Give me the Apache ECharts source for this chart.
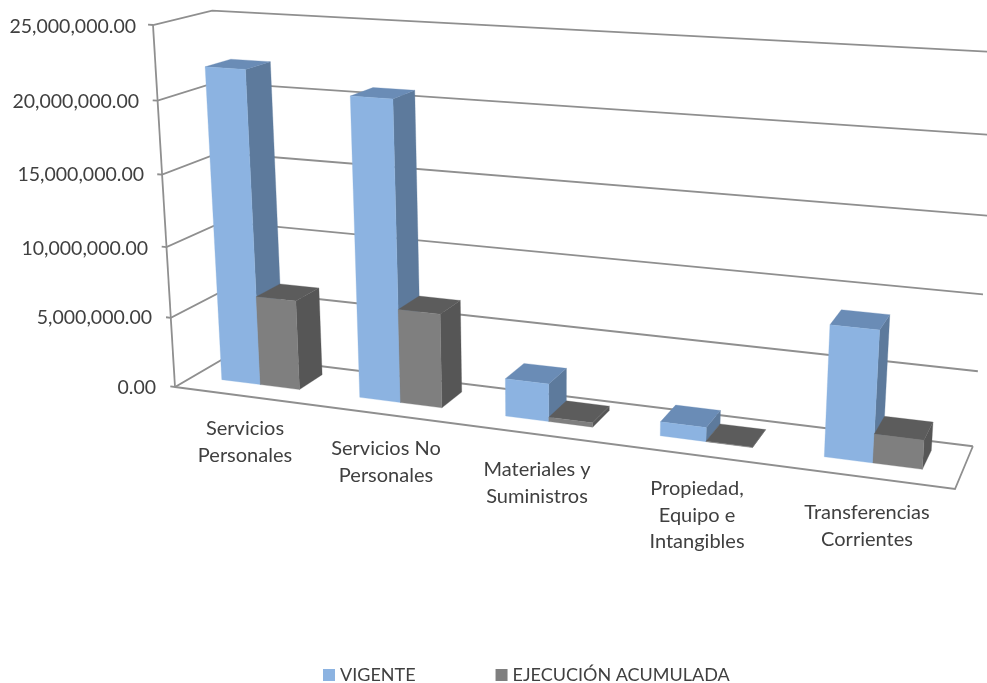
<!DOCTYPE html>
<html><head><meta charset="utf-8">
<style>html,body{margin:0;padding:0;background:#fff}#c{width:987px;height:683px}</style>
<script src="https://cdn.jsdelivr.net/npm/echarts@6/dist/echarts.min.js"></script>
</head><body><div id="c"></div>
<script>
const categories = ['Servicios\nPersonales','Servicios No\nPersonales','Materiales y\nSuministros','Propiedad,\nEquipo e\nIntangibles','Transferencias\nCorrientes'];
const vigente = [22000000, 20700000, 2600000, 950000, 8600000];
const ejecucion = [6350000, 6550000, 300000, 20000, 1900000];
const yTicks = [0, 5000000, 10000000, 15000000, 20000000, 25000000];

// Perspective camera: corners of the plot box on screen and their homogeneous weights
const P000=[175,387], P100=[955,489], P010=[153,25], P001=[230,355];
const W100=0.862, W010=0.9456, W001=1.0533;
function project(X,Y,Z){
  const d=1+X*(W100-1)+Y*(W010-1)+Z*(W001-1);
  return [0,1].map(k=>(P000[k]+X*(W100*P100[k]-P000[k])+Y*(W010*P010[k]-P000[k])+Z*(W001*P001[k]-P000[k]))/d);
}
const Z_FRONT=0.33, Z_BACK=0.78;
const BAND={v:[0.21,0.495],e:[0.495,0.78]};
const GRID={left:175,right:32,top:25,bottom:296};
const LINE='#8f8f8f', TEXT='#404040', FONT='Lato';

function norm(params,api,i,v){
  const r=params.coordSys, c=api.coord([i,v]), w=api.size([1,0])[0];
  return {X0:(c[0]-w/2-r.x)/r.width, bw:w/r.width, Y:(r.y+r.height-c[1])/r.height};
}
function barRenderer(band,cols){
  return function(params,api){
    const i=api.value(0), v=api.value(1), n=norm(params,api,i,v);
    const x0=n.X0+band[0]*n.bw, x1=n.X0+band[1]*n.bw, y=n.Y;
    const A=(x,yy,z)=>project(x,yy,z);
    const poly=(pts,fill)=>({type:'polygon',shape:{points:pts},style:{fill:fill,stroke:fill,lineWidth:0.3}});
    return {type:'group',children:[
      poly([A(x1,0,Z_FRONT),A(x1,0,Z_BACK),A(x1,y,Z_BACK),A(x1,y,Z_FRONT)],cols.side),
      poly([A(x0,y,Z_FRONT),A(x1,y,Z_FRONT),A(x1,y,Z_BACK),A(x0,y,Z_BACK)],cols.top),
      poly([A(x0,0,Z_FRONT),A(x1,0,Z_FRONT),A(x1,y,Z_FRONT),A(x0,y,Z_FRONT)],cols.front)
    ]};
  };
}
function frameRenderer(params,api){
  const v=api.value(1), Y=norm(params,api,0,v).Y;
  const ln=(pts)=>({type:'polyline',shape:{points:pts},style:{fill:null,stroke:LINE,lineWidth:1.8}});
  const ch=[ln([project(-0.007,Y,0),project(0,Y,0),project(0,Y,1),project(1,Y,1)])];
  if(v===0){
    ch.push(ln([project(0,0,0),project(0,1,0)]));
    ch.push(ln([project(0,0,0),project(1,0,0),project(1,0,1)]));
  }
  return {type:'group',children:ch};
}

const xShift=[-8,-23,-28,-24,-10], xDown=[18,38,59,78,102];
const yInset=[0,4,8,12,17,20], yDown=[2,7,13,9,9,4];
const rich={};
yTicks.forEach((t,i)=>{rich['t'+i]={fontFamily:FONT,fontSize:19.5,color:TEXT,padding:[yDown[i],yInset[i],0,0]};});

const chart=echarts.init(document.getElementById('c'),null,{renderer:'canvas'});
chart.setOption({
  animation:false,
  backgroundColor:'#ffffff',
  textStyle:{fontFamily:FONT},
  grid:GRID,
  legend:{data:['VIGENTE','EJECUCIÓN ACUMULADA'],left:318,top:661,itemWidth:12,itemHeight:12,itemGap:80,icon:'rect',
    textStyle:{fontFamily:FONT,fontSize:18,color:TEXT}},
  xAxis:{type:'category',
    data:categories.map((c,i)=>({value:c,textStyle:{padding:[xDown[i],xShift[i]<0?-2*xShift[i]:0,0,xShift[i]>0?2*xShift[i]:0]}})),
    axisLine:{show:false},axisTick:{show:false},splitLine:{show:false},
    axisLabel:{interval:0,margin:10,fontFamily:FONT,fontSize:20,lineHeight:26.7,color:TEXT,verticalAlign:'top'}},
  yAxis:{type:'value',min:0,max:25000000,interval:5000000,
    axisLine:{show:false},axisTick:{show:false},splitLine:{show:false},
    axisLabel:{margin:19,rich:rich,
      formatter:(v,i)=>'{t'+i+'|'+v.toLocaleString('en-US',{minimumFractionDigits:2,maximumFractionDigits:2})+'}'}},
  series:[
    {type:'custom',name:'frame',silent:true,z:1,encode:{x:0,y:1},data:yTicks.map(v=>[0,v]),renderItem:frameRenderer},
    {type:'custom',name:'VIGENTE',z:2,itemStyle:{color:'#8CB3E1'},encode:{x:0,y:1},data:vigente.map((v,i)=>[i,v]),
      renderItem:barRenderer(BAND.v,{front:'#8CB3E1',side:'#5D7A9C',top:'#6A8CB6'})},
    {type:'custom',name:'EJECUCIÓN ACUMULADA',z:3,itemStyle:{color:'#7F7F7F'},encode:{x:0,y:1},data:ejecucion.map((v,i)=>[i,v]),
      renderItem:barRenderer(BAND.e,{front:'#7F7F7F',side:'#565656',top:'#5C5C5C'})}
  ]
});
</script></body></html>
